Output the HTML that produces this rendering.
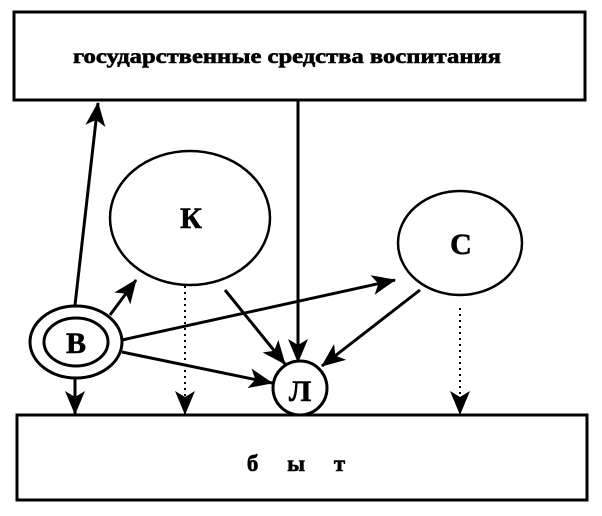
<!DOCTYPE html>
<html><head><style>body{margin:0;background:#fff}svg{display:block}</style></head><body>
<svg width="602" height="516" viewBox="0 0 602 516" xmlns="http://www.w3.org/2000/svg">
<defs>
<marker id="b" markerWidth="24" markerHeight="20" refX="23" refY="10" orient="auto" markerUnits="userSpaceOnUse" viewBox="0 0 24 20"><path d="M0,0 L24,10 L0,20 L6,10 z" fill="#000"/></marker></defs>
<g fill="none" stroke="#000" stroke-width="3">
<rect x="14" y="12" width="571" height="88"/>
<rect x="17" y="415" width="570" height="85"/>
<ellipse cx="190" cy="218" rx="80" ry="67" stroke-width="2.5"/>
<ellipse cx="460" cy="243" rx="62" ry="52" stroke-width="2.5"/>
<ellipse cx="76" cy="342" rx="46" ry="36"/>
<ellipse cx="76" cy="342" rx="32" ry="24"/>
<circle cx="300" cy="388" r="27"/>
<g marker-end="url(#b)">
<line x1="75" y1="305" x2="98" y2="103"/>
<line x1="110" y1="315" x2="136" y2="280"/>
<line x1="122" y1="340" x2="395" y2="280"/>
<line x1="122" y1="352" x2="272" y2="383"/>
<line x1="225" y1="290" x2="285" y2="364"/>
<line x1="420" y1="290" x2="322" y2="366"/>
<line x1="298" y1="100" x2="298" y2="362"/>
<line x1="75" y1="378" x2="75" y2="414"/>
<line x1="185" y1="286" x2="185" y2="414" stroke-width="2" stroke-dasharray="2,4"/>
<line x1="460" y1="308" x2="460" y2="414" stroke-width="2" stroke-dasharray="2,4"/>
</g></g>
<g font-family="Liberation Serif, serif" font-weight="bold" fill="#000" stroke="#000" stroke-width="0.6">
<text x="287" y="63" font-size="21" text-anchor="middle" textLength="428" lengthAdjust="spacingAndGlyphs">государственные средства воспитания</text>
<text x="191" y="228" font-size="30" text-anchor="middle">К</text>
<text x="461" y="254" font-size="30" text-anchor="middle">С</text>
<text x="76" y="353" font-size="30" text-anchor="middle">В</text>
<text x="300" y="401" font-size="30" text-anchor="middle">Л</text>
<text x="296" y="471" font-size="23" text-anchor="middle" xml:space="preserve">б     ы     т</text>
</g>
</svg>
</body></html>
